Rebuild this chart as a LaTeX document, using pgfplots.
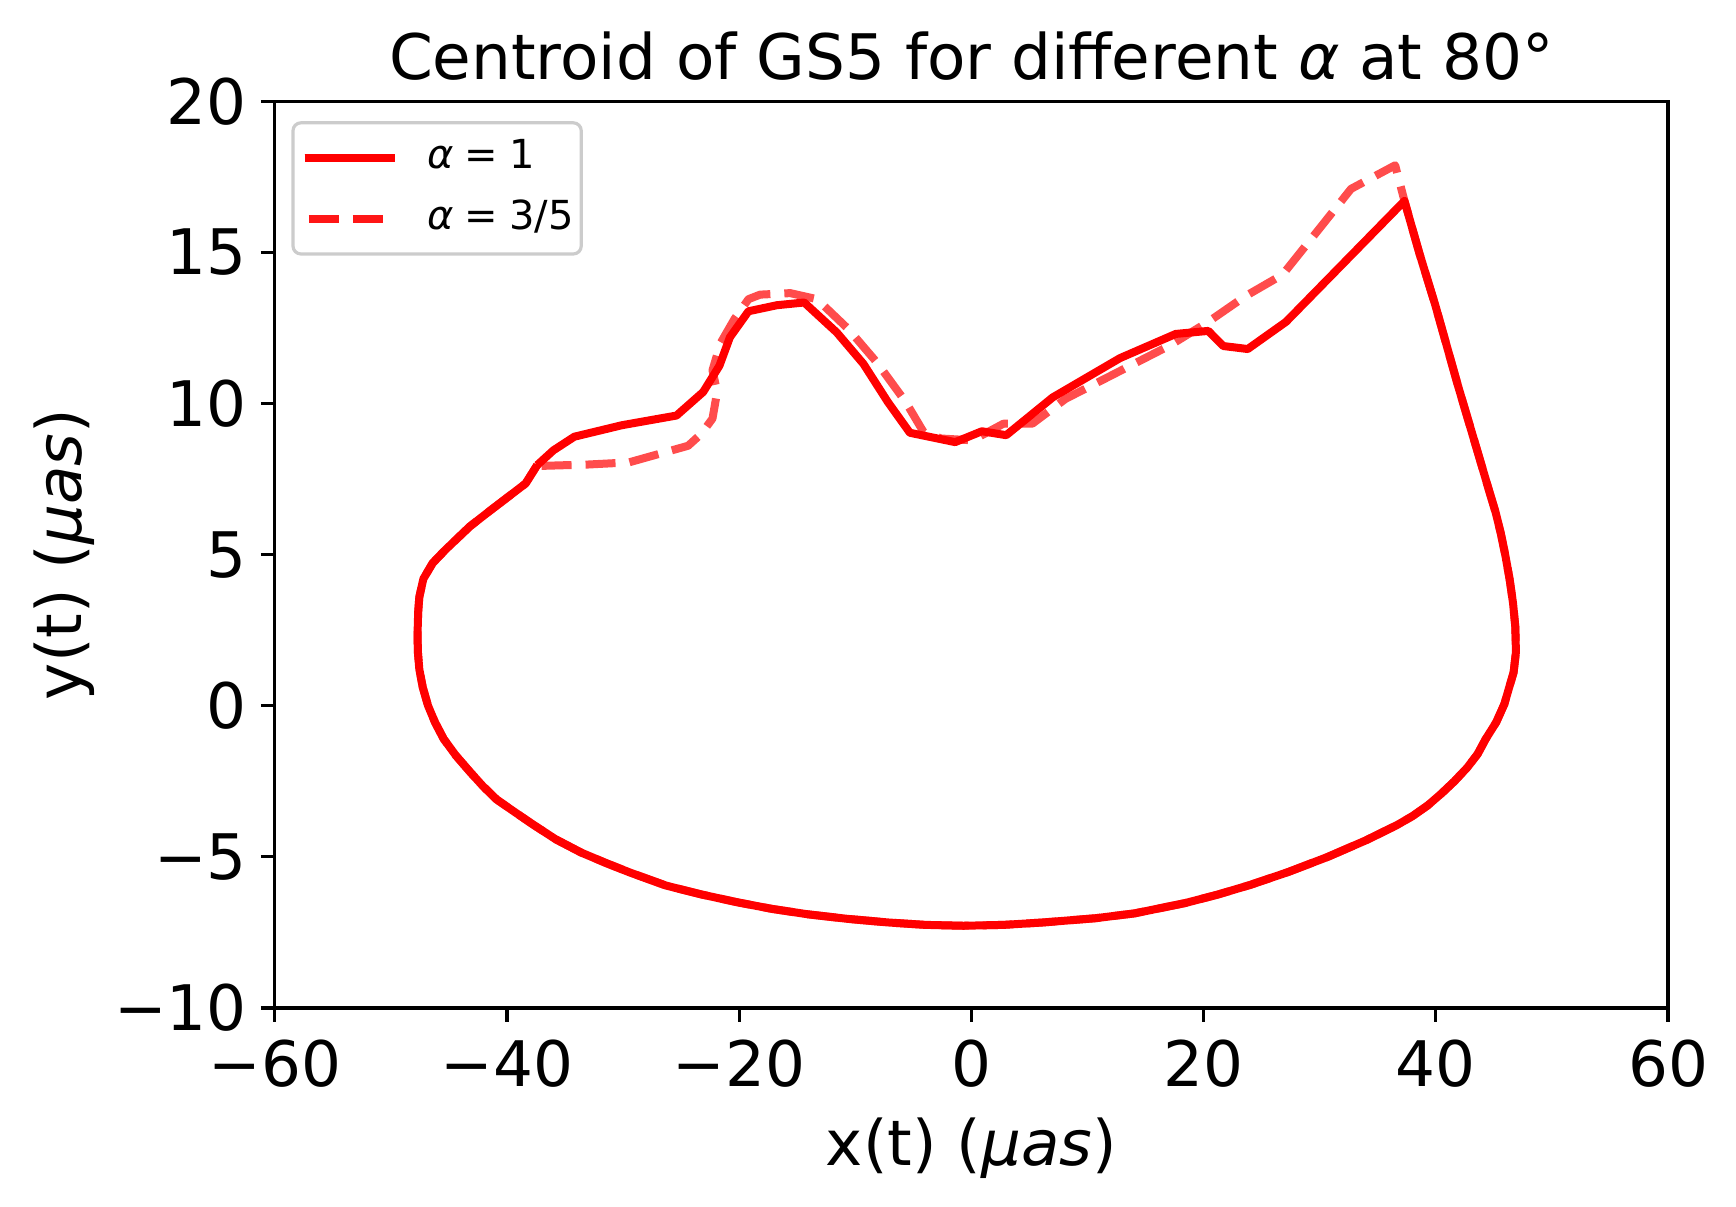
\documentclass[border=0pt]{standalone}
\usepackage{fontspec}
\setmainfont{DejaVu Sans}
\usepackage{pgfplots}
\pgfplotsset{compat=1.18}
\begin{document}
\begin{tikzpicture}
\begin{axis}[
  name=ax,
  scale only axis,
  width=348.3pt, height=226.7pt,
  xmin=-60, xmax=60, ymin=-10, ymax=20,
  xtick={-60,-40,-20,0,20,40,60},
  xticklabels={−60,−40,−20,0,20,40,60},
  ytick={-10,-5,0,5,10,15,20},
  yticklabels={−10,−5,0,5,10,15,20},
  tick align=outside, xtick pos=bottom, ytick pos=left,
  major tick length=3.5pt,
  every tick/.style={black, line width=0.8pt},
  axis line style={line width=0.8pt},
  tick label style={font=\fontsize{15.7}{18}\selectfont},
  xticklabel style={yshift=-1pt},
  title={Centroid of GS5 for different {\itshape α} at 80°},
  title style={font=\fontsize{15.7}{18}\selectfont, at={(axis description cs:0.5,1)}, anchor=base, yshift=-0.5pt},
  xlabel={x(t) ({\itshape μas})},
  ylabel={y(t) ({\itshape μas})},
  label style={font=\fontsize{15.7}{18}\selectfont},
  xlabel style={at={(axis description cs:0.5,0)}, anchor=base, yshift=-39.5pt},
  ylabel style={at={(axis description cs:0,0.5)}, anchor=center, rotate=0, yshift=52.6pt},
  legend style={at={(axis description cs:0,1)}, anchor=north west, xshift=4.15pt, yshift=-5.0pt,
    draw=black!20, line width=0.8pt, rounded corners=2pt, fill=white,
    font=\fontsize{10}{12}\selectfont,
    nodes={inner sep=0pt, text height=7.5pt, text depth=2pt},
    inner xsep=1.9pt, inner ysep=4.0pt, row sep=5.8pt, column sep=7.3pt},
  legend cell align=left,
  legend image code/.code={\path (0pt,0pt) -- (22.5pt,0pt); \draw[#1] (0pt,0pt) -- (22.5pt,0pt);},
]
\addplot[color=red, line width=2pt, line join=round] coordinates {
(-37.4,7.96) (-36.0,8.45) (-34.2,8.9) (-30.1,9.28) (-25.4,9.6) (-23.1,10.38)
(-21.7,11.25) (-20.8,12.19) (-19.2,13.05) (-16.75,13.25) (-14.4,13.34)
(-11.6,12.35) (-9.3,11.31) (-7.2,10.05) (-5.3,9.03) (-1.4,8.72) (0.9,9.08)
(3.0,8.95) (7.0,10.2) (12.8,11.5) (17.6,12.3) (20.4,12.4) (21.7,11.9)
(23.8,11.8) (27.1,12.7) (37.3,16.7)
(38.6,14.95) (39.95,13.26) (41.9,10.6) (43.6,8.4) (44.6,7.1) (45.15,6.4)
(45.6,5.7) (46.0,4.95) (46.35,4.2) (46.65,3.4) (46.85,2.6)
(46.9,1.77) (46.7,1.1) (46.3,0.58) (45.9,0.05) (45.2,-0.55) (44.3,-1.1)
(43.6,-1.6) (42.7,-2.05) (41.6,-2.5) (40.5,-2.9)
(39.3,-3.3) (38.0,-3.65) (36.65,-3.95) (34.0,-4.45) (30.7,-5.0) (27.3,-5.5)
(24.0,-5.93) (21.2,-6.25) (18.4,-6.53) (14.05,-6.87) (10.7,-7.03) (6.2,-7.17)
(2.8,-7.25) (-0.68,-7.28) (-4.0,-7.25) (-7.2,-7.17) (-10.7,-7.05) (-14.1,-6.9)
(-17.2,-6.72) (-20.2,-6.5) (-23.3,-6.24) (-26.3,-5.95) (-29.4,-5.52) (-31.5,-5.2)
(-33.6,-4.86) (-35.8,-4.42) (-37.8,-3.92) (-39.4,-3.5) (-40.9,-3.1) (-42.1,-2.65)
(-43.16,-2.2) (-44.4,-1.65) (-45.45,-1.1) (-46.2,-0.55) (-46.8,0.0) (-47.25,0.6)
(-47.55,1.2) (-47.68,1.8) (-47.7,2.45) (-47.65,3.1) (-47.55,3.6) (-47.2,4.2)
(-46.4,4.72) (-45.3,5.16) (-43.2,5.93) (-41.4,6.47) (-39.9,6.91) (-38.4,7.35) (-37.4,7.96)
};
\addlegendentry{{\itshape α}\hspace{0.27em}=\hspace{0.27em}1}
\addplot[color=red, draw opacity=0.7, line width=2pt, dash pattern=on 7.5pt off 3.5pt, dash phase=9.9pt, line join=round] coordinates {
(-37.4,7.93) (-33.0,7.98) (-29.5,8.05) (-24.4,8.6) (-23.25,9.0) (-22.3,9.5)
(-21.9,10.38) (-22.3,11.1) (-21.6,12.0) (-20.4,12.8) (-19.2,13.45) (-18.2,13.6)
(-15.6,13.65) (-13.3,13.45) (-10.6,12.46) (-8.15,11.36) (-5.66,10.05)
(-4.13,9.06) (-2.6,8.84) (0.08,8.78) (2.76,9.33) (5.25,9.33) (8.1,10.15)
(17.1,11.92) (20.4,12.7) (23.6,13.55) (26.8,14.26) (29.8,15.7) (32.7,17.1)
(36.5,17.88) (37.3,16.7)
(38.6,14.95) (39.95,13.26) (41.9,10.6) (43.6,8.4) (44.6,7.1) (45.15,6.4)
(45.6,5.7) (46.0,4.95) (46.35,4.2) (46.65,3.4) (46.85,2.6)
(46.9,1.77) (46.7,1.1) (46.3,0.58) (45.9,0.05) (45.2,-0.55) (44.3,-1.1)
(43.6,-1.6) (42.7,-2.05) (41.6,-2.5) (40.5,-2.9)
(39.3,-3.3) (38.0,-3.65) (36.65,-3.95) (34.0,-4.45) (30.7,-5.0) (27.3,-5.5)
(24.0,-5.93) (21.2,-6.25) (18.4,-6.53) (14.05,-6.87) (10.7,-7.03) (6.2,-7.17)
(2.8,-7.25) (-0.68,-7.28) (-4.0,-7.25) (-7.2,-7.17) (-10.7,-7.05) (-14.1,-6.9)
(-17.2,-6.72) (-20.2,-6.5) (-23.3,-6.24) (-26.3,-5.95) (-29.4,-5.52) (-31.5,-5.2)
(-33.6,-4.86) (-35.8,-4.42) (-37.8,-3.92) (-39.4,-3.5) (-40.9,-3.1) (-42.1,-2.65)
(-43.16,-2.2) (-44.4,-1.65) (-45.45,-1.1) (-46.2,-0.55) (-46.8,0.0) (-47.25,0.6)
(-47.55,1.2) (-47.68,1.8) (-47.7,2.45) (-47.65,3.1) (-47.55,3.6) (-47.2,4.2)
(-46.4,4.72) (-45.3,5.16) (-43.2,5.93) (-41.4,6.47) (-39.9,6.91) (-38.4,7.35) (-37.4,7.96)
};
\addlegendentry{{\itshape α}\hspace{0.27em}=\hspace{0.27em}3/5\hspace{4pt}}
\end{axis}
\pgfresetboundingbox
\path[use as bounding box] ([xshift=-68.7pt,yshift=-49.75pt]ax.south west) rectangle ([xshift=17.0pt,yshift=25.3pt]ax.north east);
\end{tikzpicture}
\end{document}
